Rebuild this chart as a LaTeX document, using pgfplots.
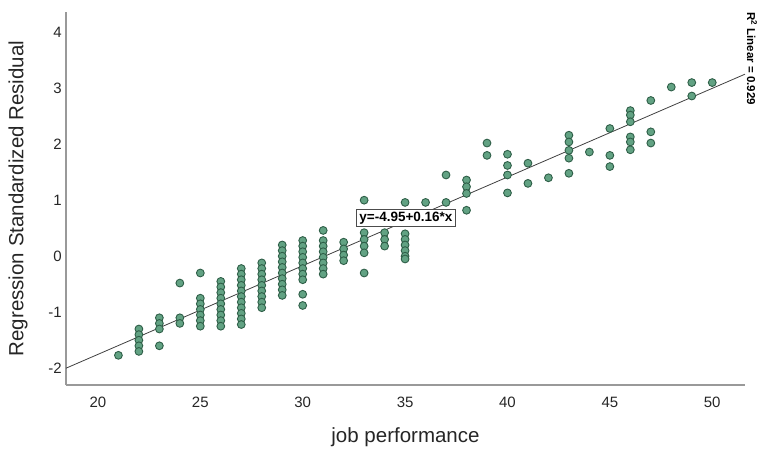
\documentclass[border=0pt]{standalone}
\usepackage{pgfplots}
\pgfplotsset{compat=1.18}
\usepackage{fontspec}
\setmainfont{Liberation Sans}
\definecolor{ptfill}{HTML}{62A283}
\definecolor{ptdraw}{HTML}{2E5E47}
\begin{document}
\begin{tikzpicture}
\path[use as bounding box] (-66pt,-63pt) rectangle (693pt,385pt);
\begin{axis}[
  at={(0,0)}, anchor=south west,
  scale only axis, width=679pt, height=373pt,
  xmin=18.44, xmax=51.6, ymin=-2.30, ymax=4.36,
  axis x line=bottom, axis y line=left,
  axis line style={-, draw=black!40, line width=1.3pt},
  xtick={20,25,...,50}, ytick={-2,-1,...,4},
  major tick length=0pt,
  /pgf/number format/assume math mode=true,
  tick label style={font=\fontsize{15}{17}\selectfont, text=black!85},
  xticklabel style={anchor=north, inner sep=0pt, yshift=-12pt},
  yticklabel style={anchor=east, inner sep=0pt, xshift=-4pt},
  xlabel={job performance},
  ylabel={Regression Standardized Residual},
  label style={font=\fontsize{20.5}{23}\selectfont, text=black!85},
  xlabel style={at={(axis description cs:0.5,0)}, anchor=center, yshift=-52pt},
  ylabel style={at={(axis description cs:0,0.5)}, anchor=center, yshift=48pt},
  clip=false,
]
\addplot[only marks, mark=*, mark size=3.9pt, mark options={fill=ptfill, draw=ptdraw, line width=0.9pt}] table {
x y
21 -1.77
22 -1.30
22 -1.40
22 -1.50
22 -1.60
22 -1.70
23 -1.10
23 -1.20
23 -1.30
23 -1.60
24 -0.48
24 -1.10
24 -1.20
25 -0.30
25 -0.75
25 -0.85
25 -0.95
25 -1.05
25 -1.15
25 -1.25
26 -0.45
26 -0.55
26 -0.65
26 -0.75
26 -0.85
26 -0.95
26 -1.05
26 -1.15
26 -1.25
27 -0.22
27 -0.32
27 -0.42
27 -0.52
27 -0.62
27 -0.72
27 -0.82
27 -0.92
27 -1.02
27 -1.12
27 -1.22
28 -0.12
28 -0.22
28 -0.32
28 -0.42
28 -0.52
28 -0.62
28 -0.72
28 -0.82
28 -0.92
29 0.20
29 0.10
29 0.00
29 -0.10
29 -0.20
29 -0.30
29 -0.40
29 -0.50
29 -0.60
29 -0.70
30 0.28
30 0.18
30 0.08
30 -0.02
30 -0.12
30 -0.22
30 -0.32
30 -0.42
30 -0.68
30 -0.88
31 0.46
31 0.28
31 0.18
31 0.08
31 -0.02
31 -0.12
31 -0.22
31 -0.32
32 0.25
32 0.13
32 0.02
32 -0.08
33 1.00
33 0.42
33 0.30
33 0.18
33 0.06
33 -0.30
34 0.42
34 0.30
34 0.18
35 0.96
35 0.40
35 0.30
35 0.20
35 0.10
35 0.00
35 -0.05
36 0.96
37 1.45
37 0.96
38 1.36
38 1.24
38 1.12
38 0.82
39 2.02
39 1.80
40 1.82
40 1.62
40 1.45
40 1.13
41 1.66
41 1.30
42 1.40
43 2.16
43 2.04
43 1.89
43 1.75
43 1.48
44 1.86
45 2.28
45 1.80
45 1.60
46 2.60
46 2.52
46 2.40
46 2.13
46 2.04
46 1.90
47 2.78
47 2.22
47 2.02
48 3.02
49 3.10
49 2.86
50 3.10
};
\addplot[black!75, line width=0.8pt] coordinates {(18.44,-2.00) (51.6,3.25)};
\node[draw=black!70, fill=white, line width=0.8pt, inner sep=2.5pt,
  font=\bfseries\fontsize{13.5}{15}\selectfont] at (axis cs:35.04,0.68) {y=-4.95+0.16*x};
\end{axis}
\node[rotate=-90, anchor=west, inner sep=0pt, font=\bfseries\fontsize{11.5}{13}\selectfont]
  at (686pt,373pt) {R\textsuperscript{2} Linear = 0.929};
\end{tikzpicture}
\end{document}
